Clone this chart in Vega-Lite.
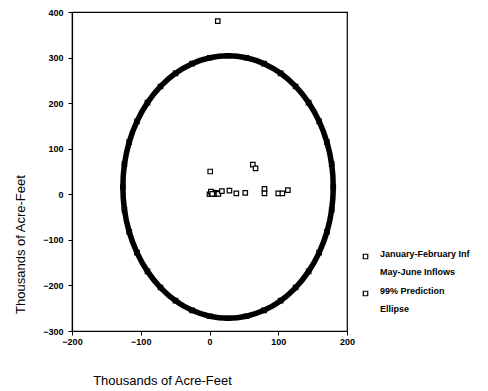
{
  "$schema": "https://vega.github.io/schema/vega-lite/v6.json",
  "width": 275,
  "height": 319,
  "autosize": "none",
  "padding": {"left": 72, "top": 12, "right": 141, "bottom": 60},
  "background": "white",
  "config": {
    "view": {"stroke": "black", "strokeWidth": 1.2},
    "font": "Liberation Sans",
    "style": {"guide-label": {"lineHeight": 18}},
    "axis": {
      "grid": false,
      "domainColor": "black",
      "domainWidth": 1.2,
      "tickColor": "black",
      "tickSize": 4,
      "tickWidth": 1,
      "labelFont": "Liberation Sans",
      "labelFontSize": 9,
      "labelFontWeight": "bold",
      "labelColor": "black",
      "labelFlush": false,
      "titleFont": "Liberation Sans",
      "titleFontSize": 13,
      "titleFontWeight": "normal",
      "titleColor": "black"
    }
  },
  "data": {
    "values": [
      {"series": "January-February Inflows vs May-June Inflows", "x": 12, "y": 380},
      {"series": "January-February Inflows vs May-June Inflows", "x": 1, "y": 50},
      {"series": "January-February Inflows vs May-June Inflows", "x": 63, "y": 65},
      {"series": "January-February Inflows vs May-June Inflows", "x": 67, "y": 57},
      {"series": "January-February Inflows vs May-June Inflows", "x": 0, "y": 0},
      {"series": "January-February Inflows vs May-June Inflows", "x": 3, "y": 2},
      {"series": "January-February Inflows vs May-June Inflows", "x": 5, "y": 4},
      {"series": "January-February Inflows vs May-June Inflows", "x": 7, "y": 1},
      {"series": "January-February Inflows vs May-June Inflows", "x": 9, "y": 3},
      {"series": "January-February Inflows vs May-June Inflows", "x": 11, "y": 2},
      {"series": "January-February Inflows vs May-June Inflows", "x": 2, "y": 6},
      {"series": "January-February Inflows vs May-June Inflows", "x": 6, "y": 0},
      {"series": "January-February Inflows vs May-June Inflows", "x": 13, "y": 1},
      {"series": "January-February Inflows vs May-June Inflows", "x": 4, "y": 1},
      {"series": "January-February Inflows vs May-June Inflows", "x": 18, "y": 7},
      {"series": "January-February Inflows vs May-June Inflows", "x": 29, "y": 8},
      {"series": "January-February Inflows vs May-June Inflows", "x": 39, "y": 2},
      {"series": "January-February Inflows vs May-June Inflows", "x": 52, "y": 3},
      {"series": "January-February Inflows vs May-June Inflows", "x": 80, "y": 12},
      {"series": "January-February Inflows vs May-June Inflows", "x": 80, "y": 2},
      {"series": "January-February Inflows vs May-June Inflows", "x": 100, "y": 2},
      {"series": "January-February Inflows vs May-June Inflows", "x": 106, "y": 2},
      {"series": "January-February Inflows vs May-June Inflows", "x": 114, "y": 9},
      {"series": "99% Prediction Ellipse", "ord": 0, "x": 180, "y": 16},
      {"series": "99% Prediction Ellipse", "ord": 1, "x": 177.7, "y": 66},
      {"series": "99% Prediction Ellipse", "ord": 2, "x": 170.8, "y": 114.5},
      {"series": "99% Prediction Ellipse", "ord": 3, "x": 159.5, "y": 160},
      {"series": "99% Prediction Ellipse", "ord": 4, "x": 144.2, "y": 201.1},
      {"series": "99% Prediction Ellipse", "ord": 5, "x": 125.3, "y": 236.6},
      {"series": "99% Prediction Ellipse", "ord": 6, "x": 103.5, "y": 265.4},
      {"series": "99% Prediction Ellipse", "ord": 7, "x": 79.3, "y": 286.6},
      {"series": "99% Prediction Ellipse", "ord": 8, "x": 53.6, "y": 299.6},
      {"series": "99% Prediction Ellipse", "ord": 9, "x": 27, "y": 304},
      {"series": "99% Prediction Ellipse", "ord": 10, "x": 0.4, "y": 299.6},
      {"series": "99% Prediction Ellipse", "ord": 11, "x": -25.3, "y": 286.6},
      {"series": "99% Prediction Ellipse", "ord": 12, "x": -49.5, "y": 265.4},
      {"series": "99% Prediction Ellipse", "ord": 13, "x": -71.3, "y": 236.6},
      {"series": "99% Prediction Ellipse", "ord": 14, "x": -90.2, "y": 201.1},
      {"series": "99% Prediction Ellipse", "ord": 15, "x": -105.5, "y": 160},
      {"series": "99% Prediction Ellipse", "ord": 16, "x": -116.8, "y": 114.5},
      {"series": "99% Prediction Ellipse", "ord": 17, "x": -123.7, "y": 66},
      {"series": "99% Prediction Ellipse", "ord": 18, "x": -126, "y": 16},
      {"series": "99% Prediction Ellipse", "ord": 19, "x": -123.7, "y": -34},
      {"series": "99% Prediction Ellipse", "ord": 20, "x": -116.8, "y": -82.5},
      {"series": "99% Prediction Ellipse", "ord": 21, "x": -105.5, "y": -128},
      {"series": "99% Prediction Ellipse", "ord": 22, "x": -90.2, "y": -169.1},
      {"series": "99% Prediction Ellipse", "ord": 23, "x": -71.3, "y": -204.6},
      {"series": "99% Prediction Ellipse", "ord": 24, "x": -49.5, "y": -233.4},
      {"series": "99% Prediction Ellipse", "ord": 25, "x": -25.3, "y": -254.6},
      {"series": "99% Prediction Ellipse", "ord": 26, "x": 0.4, "y": -267.6},
      {"series": "99% Prediction Ellipse", "ord": 27, "x": 27, "y": -272},
      {"series": "99% Prediction Ellipse", "ord": 28, "x": 53.6, "y": -267.6},
      {"series": "99% Prediction Ellipse", "ord": 29, "x": 79.3, "y": -254.6},
      {"series": "99% Prediction Ellipse", "ord": 30, "x": 103.5, "y": -233.4},
      {"series": "99% Prediction Ellipse", "ord": 31, "x": 125.3, "y": -204.6},
      {"series": "99% Prediction Ellipse", "ord": 32, "x": 144.2, "y": -169.1},
      {"series": "99% Prediction Ellipse", "ord": 33, "x": 159.5, "y": -128},
      {"series": "99% Prediction Ellipse", "ord": 34, "x": 170.8, "y": -82.5},
      {"series": "99% Prediction Ellipse", "ord": 35, "x": 177.7, "y": -34}
    ]
  },
  "encoding": {
    "x": {
      "field": "x",
      "type": "quantitative",
      "scale": {"domain": [-200, 200], "nice": false, "zero": false},
      "axis": {
        "values": [-200, -100, 0, 100, 200],
        "title": "Thousands of Acre-Feet",
        "labelPadding": 2,
        "titleX": 90,
        "titleY": 53,
        "titleAlign": "center",
        "titleBaseline": "alphabetic"
      }
    },
    "y": {
      "field": "y",
      "type": "quantitative",
      "scale": {"domain": [-300, 400], "nice": false, "zero": false},
      "axis": {
        "values": [-300, -200, -100, 0, 100, 200, 300, 400],
        "title": "Thousands of Acre-Feet",
        "labelPadding": 5,
        "titleX": -52,
        "titleY": 232,
        "titleAlign": "center",
        "titleBaseline": "middle"
      }
    }
  },
  "layer": [
    {
      "mark": {"type": "point", "shape": "square", "filled": false, "fill": "white", "strokeWidth": 1.2, "size": 20, "opacity": 1},
      "encoding": {
        "color": {
          "field": "series",
          "type": "nominal",
          "scale": {"domain": ["January-February Inflows vs May-June Inflows", "99% Prediction Ellipse"], "range": ["black", "black"]},
          "legend": {
            "title": null,
            "orient": "none",
            "legendX": 289,
            "legendY": 240,
            "symbolType": "square",
            "labelExpr": "datum.value == '99% Prediction Ellipse' ? ['99% Prediction', 'Ellipse'] : ['January-February Inf', 'May-June Inflows']",
            "labelFont": "Liberation Sans",
            "labelFontSize": 9,
            "labelFontWeight": "bold",
            "labelColor": "black",
            "labelLimit": 300,
            "labelOffset": 10,
            "labelBaseline": "alphabetic",
            "rowPadding": 9,
            "symbolSize": 20,
            "symbolStrokeWidth": 1.2,
            "symbolFillColor": "white"
          }
        }
      }
    },
    {
      "transform": [{"filter": "datum.series == '99% Prediction Ellipse'"}],
      "mark": {"type": "line", "stroke": "black", "strokeWidth": 5.5, "strokeJoin": "round", "interpolate": "cardinal-closed"},
      "encoding": {
        "order": {"field": "ord", "type": "quantitative"}
      }
    }
  ]
}
